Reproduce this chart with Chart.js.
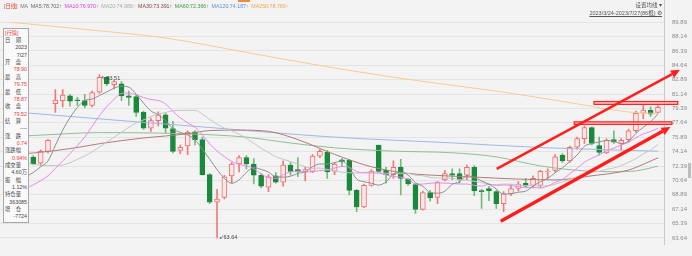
<!DOCTYPE html>
<html>
<head>
<meta charset="utf-8">
<script src="https://cdn.jsdelivr.net/npm/chart.js@4.4.1/dist/chart.umd.min.js"></script>
<style>
  body { margin: 0; background: #f3f3f3; }
  #box { position: relative; width: 692px; height: 256px; overflow: hidden; background: #f3f3f3;
         font-family: "Liberation Sans", Arial, "Noto Sans CJK SC", sans-serif; }
  #c { position: absolute; left: 0; top: 0; }
  #hdr { position: absolute; left: 4px; top: 2px; font-size: 5.3px; line-height: 8px; white-space: nowrap; }
  #hdr span { margin-right: 2.6px; }
  .tr { position: absolute; right: 30px; font-size: 5.5px; line-height: 7px; color: #555; white-space: nowrap; }
  #panel { position: absolute; left: 3px; top: 28px; width: 24px; height: 193px; background: #f9f9f9; border: 1px solid #a8a8a8; }
  #panel div { position: absolute; left: 1px; right: 1px; font-size: 5.3px; line-height: 6px; white-space: nowrap; color: #444; }
  #panel .lab { display: inline-block; width: 16px; text-align: justify; text-align-last: justify; }
  #panel .val { text-align: right; }
  #panel .red { color: #f03a3a; }
  #thumb { position: absolute; left: 688px; top: 163px; width: 3px; height: 15px; background: #bdbdbd; }
  #tab { position: absolute; left: 238px; top: 0; width: 12px; height: 2px; background: #f08a3c; }
</style>
</head>
<body>
<div id="box">
  <canvas id="c" width="692" height="256"></canvas>
  <div id="tab"></div>
  <div id="hdr"></div>
  <div class="tr" style="top:2px">设置均线 ▾</div>
  <div class="tr" style="top:10px;text-decoration:underline">2023/3/24-2023/7/27(86根) ⚙</div>
  <div id="panel"></div>
  <div id="thumb"></div>
</div>
<script>
// daily bars, index 0..88 (first three sit under the info panel)
const opens = [70.00,70.50,71.20,73.47,72.74,74.17,79.96,80.34,80.92,80.40,
  80.34,79.76,81.38,83.16,82.27,82.39,80.92,80.84,78.91,76.99,
  77.91,78.61,76.95,74.29,74.83,76.56,75.60,71.35,68.00,68.57,
  71.20,72.63,73.40,72.63,71.27,69.81,71.20,70.43,72.51,71.97,
  71.74,71.74,73.59,74.05,71.74,73.13,73.09,69.42,67.42,70.04,
  74.94,71.85,71.35,72.24,70.81,70.12,67.11,69.15,68.57,70.70,
  71.47,71.47,71.27,72.24,69.35,69.66,69.27,67.80,69.04,69.66,
  70.27,70.04,70.04,71.66,71.85,73.71,73.01,74.67,75.71,77.06,
  74.86,73.98,75.60,75.13,75.60,76.68,78.80,79.15,78.90];
const highs = [70.80,71.40,72.20,73.67,74.36,75.60,81.69,81.69,81.11,80.73,
  81.10,81.50,83.51,83.25,82.85,82.66,81.50,81.11,79.07,78.22,
  78.99,78.80,77.83,74.94,76.68,76.68,75.91,71.47,69.54,71.27,
  72.82,73.67,73.67,73.28,71.47,71.35,71.58,73.01,72.82,73.40,
  72.24,73.78,74.44,74.29,72.82,73.28,73.20,69.54,70.20,71.97,
  74.94,72.24,73.01,73.20,70.89,70.20,69.35,69.42,70.50,71.85,
  72.05,72.05,72.51,72.43,69.54,69.93,69.42,69.27,70.12,70.50,
  70.89,71.20,71.85,72.05,73.78,73.90,74.82,75.91,77.26,77.14,
  75.91,75.71,76.68,75.71,76.87,79.07,79.76,79.57,79.75];
const lows = [69.60,70.20,70.90,72.51,72.43,73.98,78.91,79.57,79.65,79.76,
  79.45,79.57,81.23,82.16,81.77,80.34,79.76,78.42,76.83,76.60,
  77.26,76.37,73.98,73.90,73.78,74.94,71.27,67.80,63.64,68.38,
  70.31,71.66,72.05,70.20,69.73,69.27,70.31,69.93,71.27,71.08,
  70.58,71.58,73.40,70.89,71.35,72.43,68.88,66.84,67.34,69.93,
  71.66,70.31,70.89,68.88,70.04,66.64,67.03,68.11,67.80,70.58,
  70.70,70.31,70.70,68.77,67.22,68.19,67.22,66.84,68.77,69.35,
  69.81,69.73,69.73,70.89,71.66,72.82,72.82,74.44,75.13,74.94,
  73.71,73.90,75.13,74.36,75.33,76.48,78.14,78.41,78.87];
const closes = [70.50,71.10,71.90,72.63,74.17,75.52,80.42,81.00,80.27,80.32,
  79.76,81.31,83.16,82.39,82.66,80.92,80.73,78.91,76.99,77.91,
  78.61,76.99,74.17,74.67,76.48,75.60,71.35,68.00,68.38,71.08,
  72.63,73.40,72.63,71.27,69.93,71.08,70.43,72.51,71.74,71.74,
  71.97,73.59,74.17,71.66,72.63,72.90,69.42,67.42,70.04,71.74,
  71.74,71.35,72.24,70.89,70.20,67.11,69.15,68.50,70.43,71.47,
  71.27,70.70,72.24,69.35,69.27,69.35,67.80,69.04,69.66,70.20,
  69.93,70.89,71.74,71.74,73.51,73.01,74.67,75.71,77.06,75.13,
  74.05,75.52,75.29,75.52,76.68,78.80,79.18,78.68,79.52];

// moving averages
const ma5 = [70.30,70.60,71.10,71.60,72.30,73.00,74.90,76.75,78.28,79.51,
  80.35,80.53,80.96,81.39,81.86,82.09,81.97,81.12,80.04,79.09,
  78.63,77.88,76.93,76.47,76.18,75.58,74.45,73.22,71.96,70.88,
  70.29,70.70,71.62,72.20,71.97,71.66,71.07,71.04,71.14,71.50,
  71.68,72.31,72.64,72.63,72.80,72.99,72.16,70.81,70.48,70.30,
  70.07,70.46,71.42,71.59,71.28,70.36,69.92,69.17,69.08,69.33,
  70.16,70.47,71.22,71.01,70.57,70.18,69.60,68.96,69.02,69.21,
  69.33,69.94,70.48,70.90,71.56,72.18,72.93,73.73,74.79,75.12,
  75.32,75.49,75.41,75.10,75.41,76.36,77.09,77.77,78.70];
const ma10 = [69.40,69.50,69.70,70.10,70.60,71.20,72.10,73.00,73.90,74.90,
  75.90,77.20,78.50,79.60,80.50,81.22,81.25,81.04,80.72,80.47,
  80.36,79.93,79.03,78.26,77.64,77.11,76.17,75.08,74.22,73.53,
  72.94,72.58,72.42,72.08,71.43,70.98,70.88,71.33,71.67,71.74,
  71.67,71.69,71.84,71.88,72.15,72.33,72.23,71.72,71.55,71.55,
  71.53,71.31,71.11,71.04,70.79,70.22,70.19,70.30,70.34,70.31,
  70.26,70.20,70.20,70.04,69.95,70.17,70.04,70.09,70.02,69.89,
  69.75,69.77,69.72,69.96,70.39,70.75,71.44,72.11,72.85,73.34,
  73.75,74.21,74.57,74.95,75.26,75.84,76.29,76.59,76.97];
const ma20 = [72.90,72.80,72.70,72.60,72.50,72.45,72.45,72.50,72.80,73.20,
  73.60,74.10,74.70,75.30,75.90,76.50,77.10,77.60,78.00,78.40,
  78.70,78.90,79.10,79.15,79.16,79.16,78.71,78.06,77.47,77.00,
  76.65,76.25,75.73,75.17,74.53,74.04,73.53,73.21,72.94,72.63,
  72.30,72.13,72.13,71.98,71.79,71.65,71.56,71.53,71.61,71.65,
  71.60,71.50,71.48,71.46,71.47,71.27,71.21,71.01,70.94,70.93,
  70.90,70.75,70.66,70.54,70.37,70.19,70.11,70.19,70.18,70.10,
  70.01,69.98,69.96,70.00,70.17,70.46,70.74,71.10,71.43,71.61,
  71.75,71.99,72.15,72.45,72.83,73.30,73.87,74.35,74.99];
// slower averages: [bar index, value]
const ma30 = [[0,73.8],[3,73.97],[8,74.5],[12,75.1],[18,75.8],[24,76.3],[27,76.7],[31,76.75],
  [35,76.6],[39,75.6],[44,73.8],[49,72.3],[54,71.5],[59,71.2],[64,71.0],[69,70.8],[74,70.7],
  [79,71.2],[84,71.9],[86,72.6],[88,73.39]];
const ma60 = [[0,76.0],[3,76.1],[12,76.45],[24,76.3],[32,75.9],[37,75.3],[44,74.6],[52,74.2],
  [60,74.0],[66,73.5],[72,72.4],[78,71.8],[82,71.7],[85,71.8],[88,72.37]];
const ma120 = [[0,79.0],[13,78.05],[26,77.14],[44,75.9],[60,75.2],[73,74.6],[88,74.19]];
const ma250 = [[0,89.86],[10,89.0],[21,87.95],[32,86.2],[44,84.3],[55,82.8],[66,81.5],
  [76,80.1],[84,78.95],[88,78.77]];

const maNames = ['MA5','MA10','MA20','MA30','MA60','MA120','MA250'];
const maLast = ['78.702','76.970','74.989','73.391','72.366','74.187','78.769'];
const maColors = ['#8e8e8e','#e58be9','#c6c6c6','#b07c78','#93bd93','#9db9e6','#f6cc93'];
const maTextColors = ['#666','#e03fe0','#aaa','#8b4343','#3f983f','#5a8fd8','#f0a646'];

const yTicks = [63.64,65.39,67.14,68.89,70.64,72.39,74.14,75.89,77.64,79.39,81.14,82.89,84.64,86.39,88.14,89.89];

// hand-drawn marks on the chart (bar index, price)
const trendArrows = [
  { from: [66.05, 72.04], to: [91.0, 84.08], width: 2.4 },
  { from: [66.6, 65.68], to: [89.7, 77.14], width: 3.4 }
];
const levelBands = [
  { x0: 79.3, x1: 90.7, top: 80.23, bottom: 79.88 },
  { x0: 76.6, x1: 89.9, top: 77.76, bottom: 77.45 }
];

// info panel
const panelRows = [
  ['lab','日期'],['val','2023'],['val','7/27'],
  ['lab','开盘'],['red','78.90'],['lab','最高'],['red','79.75'],
  ['lab','最低'],['red','78.87'],['lab','收盘'],['red','79.52'],
  ['lab','结算'],['val','----'],['lab','涨跌'],['red','0.74'],
  ['lab','涨跌幅'],['red','0.94%'],['lab','成交量'],['val','4.60万'],
  ['lab','振幅'],['val','1.12%'],['lab','持仓量'],['val','363085'],
  ['lab','增仓'],['val','-7724']
];

const hdr = document.getElementById('hdr');
hdr.innerHTML = '<span style="color:#e2402f">[日线]</span><span style="color:#777">MA</span>' +
  maNames.map((n, k) => `<span style="color:${maTextColors[k]}">${n}:${maLast[k]}↑</span>`).join('');

const panel = document.getElementById('panel');
let html = '<div style="top:0.7px;color:#e8453c">[行情]</div>';
panelRows.forEach(([kind, txt], k) => {
  const top = (0.7 + 7.35 * (k + 1)).toFixed(2);
  if (kind === 'lab') html += `<div style="top:${top}px"><span class="lab">${txt}</span></div>`;
  else html += `<div class="val ${kind === 'red' ? 'red' : ''}" style="top:${top}px">${txt}</div>`;
});
panel.innerHTML = html;

const idx = opens.map((_, i) => i);
const up = i => closes[i] >= opens[i];

const drawings = {
  id: 'drawings',
  afterDatasetsDraw(chart) {
    const { ctx, chartArea, scales: { x, y } } = chart;
    ctx.save();
    // axis line runs up through header
    ctx.strokeStyle = '#c9c9c9';
    ctx.lineWidth = 1;
    ctx.beginPath();
    ctx.moveTo(Math.round(chartArea.right) + 0.5, 0);
    ctx.lineTo(Math.round(chartArea.right) + 0.5, chartArea.top);
    ctx.stroke();

    // high / low markers
    const hiI = highs.indexOf(Math.max(...highs));
    const loI = lows.indexOf(Math.min(...lows));
    ctx.font = '5.5px "Liberation Sans", Arial';
    ctx.fillStyle = '#444';
    ctx.textBaseline = 'middle';
    ctx.fillText('↖' + highs[hiI].toFixed(2), x.getPixelForValue(hiI) + 2, y.getPixelForValue(highs[hiI]) + 4);
    ctx.fillText('↙' + lows[loI].toFixed(2), x.getPixelForValue(loI) + 1.5, y.getPixelForValue(lows[loI]) - 0.5);

    levelBands.forEach(b => {
      const px0 = x.getPixelForValue(b.x0), px1 = x.getPixelForValue(b.x1);
      const py0 = y.getPixelForValue(b.top), py1 = y.getPixelForValue(b.bottom);
      ctx.fillStyle = 'rgba(255,150,150,0.6)';
      ctx.fillRect(px0, py0, px1 - px0, py1 - py0);
      ctx.strokeStyle = '#ff2323';
      ctx.lineWidth = 1.2;
      ctx.strokeRect(px0, py0, px1 - px0, py1 - py0);
    });

    trendArrows.forEach(a => {
      const x0 = x.getPixelForValue(a.from[0]), y0 = y.getPixelForValue(a.from[1]);
      const x1 = x.getPixelForValue(a.to[0]), y1 = y.getPixelForValue(a.to[1]);
      const ang = Math.atan2(y1 - y0, x1 - x0);
      const head = 9, half = 4.2;
      const bx = x1 - head * Math.cos(ang), by = y1 - head * Math.sin(ang);
      ctx.strokeStyle = '#ff1e1e';
      ctx.fillStyle = '#ff1e1e';
      ctx.lineWidth = a.width;
      ctx.beginPath();
      ctx.moveTo(x0, y0);
      ctx.lineTo(bx, by);
      ctx.stroke();
      ctx.beginPath();
      ctx.moveTo(x1, y1);
      ctx.lineTo(bx + half * Math.sin(ang), by - half * Math.cos(ang));
      ctx.lineTo(bx - half * Math.sin(ang), by + half * Math.cos(ang));
      ctx.closePath();
      ctx.fill();
    });
    ctx.restore();
  }
};

const maLine = (k, pts, order) => ({
  type: 'line',
  label: maNames[k],
  data: pts,
  borderColor: maColors[k],
  borderWidth: 1,
  pointRadius: 0,
  cubicInterpolationMode: 'monotone',
  order
});

new Chart(document.getElementById('c'), {
  type: 'bar',
  data: {
    datasets: [
      maLine(6, ma250.map(([i, v]) => ({ x: i, y: v })), 6),
      maLine(5, ma120.map(([i, v]) => ({ x: i, y: v })), 5),
      maLine(4, ma60.map(([i, v]) => ({ x: i, y: v })), 4),
      maLine(3, ma30.map(([i, v]) => ({ x: i, y: v })), 3),
      maLine(2, ma20.map((v, i) => ({ x: i, y: v })), 2),
      maLine(1, ma10.map((v, i) => ({ x: i, y: v })), 1),
      maLine(0, ma5.map((v, i) => ({ x: i, y: v })), 0),
      {
        label: 'wick',
        data: idx.map(i => ({ x: i, y: [lows[i], highs[i]] })),
        grouped: false,
        barThickness: 1,
        borderWidth: 0,
        backgroundColor: ctx => up(ctx.dataIndex) ? '#f07a7a' : '#76b87c',
        order: 11
      },
      {
        label: 'body',
        data: idx.map(i => ({ x: i, y: [opens[i], closes[i]] })),
        grouped: false,
        barThickness: 5,
        minBarLength: 1,
        borderSkipped: false,
        borderWidth: 1,
        backgroundColor: ctx => up(ctx.dataIndex) ? '#fbe8e8' : '#19893b',
        borderColor: ctx => up(ctx.dataIndex) ? '#f07070' : '#19893b',
        order: 10
      }
    ]
  },
  options: {
    responsive: false,
    animation: false,
    layout: { padding: { top: 14, left: 0, right: 0, bottom: 0 } },
    plugins: { legend: { display: false }, tooltip: { enabled: false } },
    scales: {
      x: { type: 'linear', min: -1.531, max: 88.82, display: false, offset: false },
      y: {
        position: 'right',
        min: 62.86,
        max: 90.87,
        afterFit: s => { s.width = 28; },
        afterBuildTicks: s => { s.ticks = yTicks.map(v => ({ value: v })); },
        ticks: {
          autoSkip: false,
          padding: 8,
          color: '#8a8a8a',
          font: { size: 6, family: '"Liberation Sans Narrow", "Liberation Sans", Arial' },
          callback: v => v.toFixed(2)
        },
        grid: { color: '#e4e4e4', drawTicks: false },
        border: { color: '#c9c9c9' }
      }
    }
  },
  plugins: [drawings]
});
</script>
</body>
</html>
